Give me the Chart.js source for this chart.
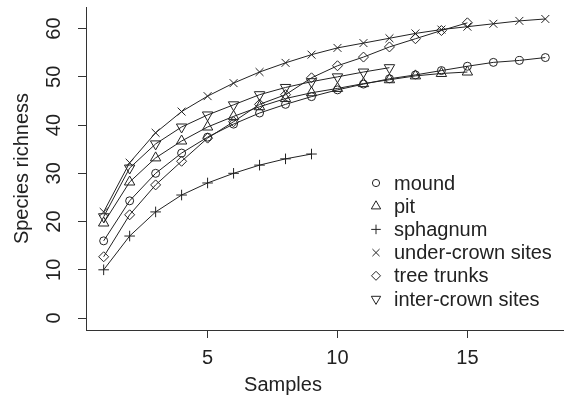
<!DOCTYPE html>
<html>
<head>
<meta charset="utf-8">
<script src="https://cdn.jsdelivr.net/npm/chart.js@4.4.1/dist/chart.umd.min.js"></script>
<style>
  html, body { margin: 0; padding: 0; background: #fff; }
  #wrap { width: 570px; height: 399px; }
</style>
</head>
<body>
<div id="wrap"><canvas id="chart" width="570" height="399"></canvas></div>
<script>
// sample number on the x axis
const samples = [1, 2, 3, 4, 5, 6, 7, 8, 9, 10, 11, 12, 13, 14, 15, 16, 17, 18];

// species richness per habitat
const mound = [16, 24.3, 30, 34.2, 37.5, 40.2, 42.5, 44.3, 45.9, 47.3, 48.5, 49.6, 50.4, 51.3, 52.2, 53, 53.4, 54];
const pit = [19.7, 28.2, 33.2, 36.7, 39.6, 41.8, 43.8, 45.5, 46.7, 47.6, 48.6, 49.4, 50.2, 50.7, 51];
const sphagnum = [10, 17, 22, 25.5, 28, 30, 31.7, 33, 34];
const underCrown = [22, 32.2, 38.4, 42.8, 46, 48.7, 51, 52.9, 54.6, 56, 57, 58, 59, 59.8, 60.4, 61, 61.6, 62];
const treeTrunks = [12.7, 21.4, 27.6, 32.5, 37.3, 40.7, 44.3, 46.3, 49.8, 52.3, 54.1, 56.2, 57.9, 59.6, 61.2];
const interCrown = [21, 31.1, 36.1, 39.6, 42.1, 44.2, 46.3, 47.8, 49, 50, 51, 51.9];

const xTicks = [5, 10, 15];
const yTicks = [0, 10, 20, 30, 40, 50, 60];

const FONT = "'Liberation Sans', Arial, Helvetica, sans-serif";
const INK = '#222';
const AXIS = '#333';

function toPoints(values) {
  return values.map((v, i) => ({ x: samples[i], y: v }));
}

const series = [
  { label: 'mound', values: mound, style: 'circle', r: 4, rot: 0 },
  { label: 'pit', values: pit, style: 'triangle', r: 6, rot: 0 },
  { label: 'sphagnum', values: sphagnum, style: 'cross', r: 5.3, rot: 0 },
  { label: 'under-crown sites', values: underCrown, style: 'crossRot', r: 5.6, rot: 0 },
  { label: 'tree trunks', values: treeTrunks, style: 'rectRot', r: 5, rot: 0 },
  { label: 'inter-crown sites', values: interCrown, style: 'triangle', r: 6, rot: 180 }
];

// legend sits inside the plot, bottom right
const insideLegend = {
  id: 'insideLegend',
  afterDraw(chart) {
    const { ctx } = chart;
    const symX = 376, textX = 394, top = 183, step = 23.2;
    ctx.save();
    chart.data.datasets.forEach((ds, i) => {
      const y = top + i * step;
      ctx.strokeStyle = INK;
      ctx.fillStyle = 'rgba(0,0,0,0)';
      ctx.lineWidth = 1;
      Chart.helpers.drawPoint(ctx, {
        pointStyle: ds.pointStyle,
        radius: ds.pointRadius * 0.9,
        rotation: ds.pointRotation,
        borderWidth: 1
      }, symX, y);
      ctx.fillStyle = INK;
      ctx.font = `20px ${FONT}`;
      ctx.textBaseline = 'middle';
      ctx.textAlign = 'left';
      ctx.fillText(ds.label, textX, y + 1);
    });
    // x axis title (sits left of centre in the original)
    ctx.fillStyle = INK;
    ctx.font = `20px ${FONT}`;
    ctx.textAlign = 'center';
    ctx.textBaseline = 'alphabetic';
    ctx.fillText('Samples', 283, 391);
    ctx.restore();
  }
};

const ctx = document.getElementById('chart').getContext('2d');
new Chart(ctx, {
  type: 'line',
  data: {
    datasets: series.map(s => ({
      label: s.label,
      data: toPoints(s.values),
      borderColor: INK,
      borderWidth: 1,
      pointStyle: s.style,
      pointRadius: s.r,
      pointRotation: s.rot,
      pointBorderColor: INK,
      pointBackgroundColor: 'rgba(0,0,0,0)',
      pointBorderWidth: 1,
      tension: 0,
      fill: false
    }))
  },
  options: {
    responsive: false,
    animation: false,
    devicePixelRatio: 1,
    layout: { padding: { top: 7, right: 3, left: 0, bottom: 0 } },
    plugins: {
      legend: { display: false },
      tooltip: { enabled: false }
    },
    scales: {
      x: {
        type: 'linear',
        min: 0.32,
        max: 18.68,
        afterFit: scale => {
          scale.height = 69;
          scale.paddingLeft = 0;
          scale.paddingRight = 0;
        },
        afterBuildTicks: scale => { scale.ticks = xTicks.map(v => ({ value: v })); },
        grid: { drawOnChartArea: false, drawTicks: true, tickLength: 8, color: AXIS },
        border: { display: true, color: AXIS, width: 1 },
        ticks: { color: INK, padding: 8, font: { family: FONT, size: 20 } },
        title: { display: false }
      },
      y: {
        type: 'linear',
        min: -2.48,
        max: 64.48,
        afterFit: scale => {
          scale.width = 86;
          scale.paddingTop = 0;
          scale.paddingBottom = 0;
        },
        afterBuildTicks: scale => { scale.ticks = yTicks.map(v => ({ value: v })); },
        grid: { drawOnChartArea: false, drawTicks: true, tickLength: 8, color: AXIS },
        border: { display: true, color: AXIS, width: 1 },
        ticks: {
          color: INK,
          padding: 12,
          minRotation: 90,
          maxRotation: 90,
          crossAlign: 'center',
          font: { family: FONT, size: 20 }
        },
        title: {
          display: true,
          text: 'Species richness',
          color: INK,
          padding: { top: 10, bottom: 0 },
          font: { family: FONT, size: 20 }
        }
      }
    }
  },
  plugins: [insideLegend]
});
</script>
</body>
</html>
